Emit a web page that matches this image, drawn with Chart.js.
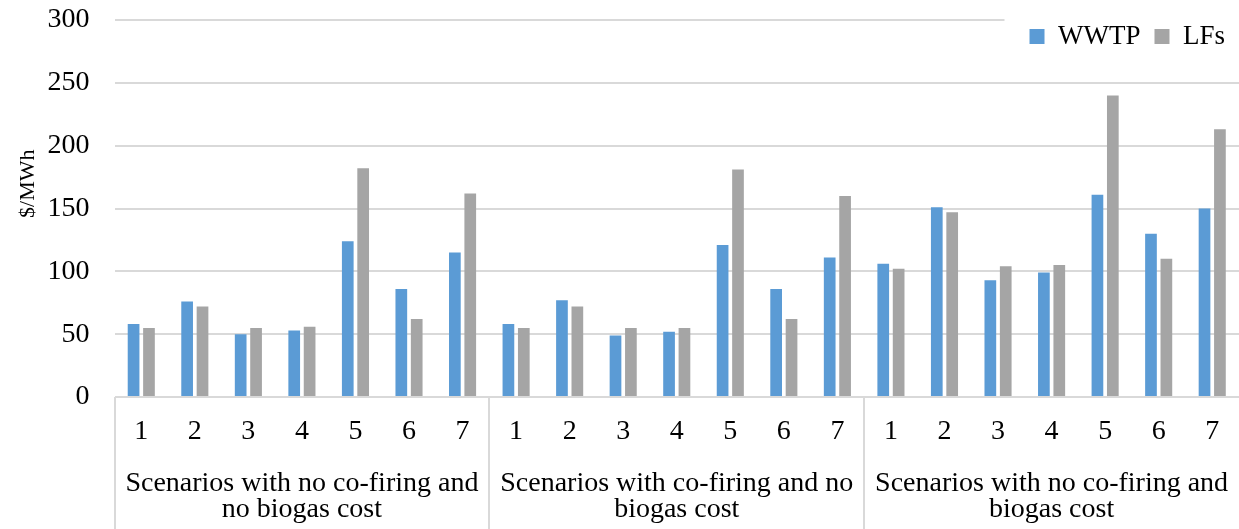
<!DOCTYPE html>
<html>
<head>
<meta charset="utf-8">
<script src="https://cdn.jsdelivr.net/npm/chart.js@4/dist/chart.umd.min.js"></script>
<style>
  body { margin: 0; background: #fff; }
</style>
</head>
<body>
<canvas id="costChart" width="1239" height="529"></canvas>
<script>
// scenario numbers repeated inside each group
const scenarios = ['1', '2', '3', '4', '5', '6', '7'];
const groupLabels = [
    ['Scenarios with no co-firing and', 'no biogas cost'],
    ['Scenarios with co-firing and no', 'biogas cost'],
    ['Scenarios with no co-firing and', 'biogas cost'],
];
const yTicks = [0, 50, 100, 150, 200, 250, 300];

// $/MWh
const wwtpNoCofireNoCost = [58, 76, 50, 53, 124, 86, 115];
const lfsNoCofireNoCost = [55, 72, 55, 56, 182, 62, 162];
const wwtpCofireNoCost = [58, 77, 49, 52, 121, 86, 111];
const lfsCofireNoCost = [55, 72, 55, 55, 181, 62, 160];
const wwtpNoCofireCost = [106, 151, 93, 99, 161, 130, 150];
const lfsNoCofireCost = [102, 147, 104, 105, 240, 110, 213];

const serif = 'Liberation Serif';
const gridGrey = '#d9d9d9';
const none = 'rgba(0,0,0,0)';

// one label per bar pair; the middle scenario of a group also carries the group name
const mid = Math.floor(scenarios.length / 2);
const categories = groupLabels.flatMap(group =>
    scenarios.map((s, i) => i === mid ? [s, '', ...group] : s)
);

// legend sits inside the plot, over a white box like the Excel original
const legendInside = {
    id: 'legendInside',
    afterLayout(chart) {
        const lg = chart.legend;
        lg.top = chart.chartArea.top - 11;
        lg.bottom = lg.top + 60;
    },
    beforeDatasetsDraw(chart) {
        const boxes = chart.legend.legendHitBoxes;
        if (!boxes || !boxes.length) return;
        const x0 = boxes[0].left - 25;
        const ctx = chart.ctx;
        ctx.save();
        ctx.fillStyle = '#fff';
        ctx.fillRect(x0, chart.chartArea.top - 3, chart.width - x0, 6);
        ctx.restore();
    }
};

new Chart(document.getElementById('costChart'), {
    type: 'bar',
    data: {
        labels: categories,
        datasets: [
            {
                label: 'WWTP',
                data: [...wwtpNoCofireNoCost, ...wwtpCofireNoCost, ...wwtpNoCofireCost],
                backgroundColor: '#5b9bd5',
                borderWidth: 0,
            },
            {
                label: 'LFs',
                data: [...lfsNoCofireNoCost, ...lfsCofireNoCost, ...lfsNoCofireCost],
                backgroundColor: '#a5a5a5',
                borderWidth: 0,
            },
        ]
    },
    options: {
        responsive: false,
        animation: false,
        devicePixelRatio: 1,
        categoryPercentage: 0.575,
        barPercentage: 0.76,
        layout: {
            padding: { left: 0, right: 0, top: 0, bottom: 93 }
        },
        plugins: {
            tooltip: { enabled: false },
            legend: {
                position: 'top',
                align: 'end',
                maxHeight: 20,
                labels: {
                    color: '#000',
                    font: { family: serif, size: 27 },
                    boxWidth: 15,
                    boxHeight: 15,
                    padding: 14,
                }
            }
        },
        scales: {
            x: {
                offset: true,
                border: { display: false },
                grid: {
                    offset: true,
                    drawOnChartArea: false,
                    tickLength: 135,
                    lineWidth: 2,
                    color: (ctx) => ctx.index % scenarios.length === 0 ? gridGrey : none,
                },
                ticks: {
                    color: '#000',
                    font: { family: serif, size: 28, lineHeight: 26 / 28 },
                    mirror: true,
                    padding: -48,
                    autoSkip: false,
                    maxRotation: 0,
                }
            },
            y: {
                min: 0,
                max: 300,
                afterBuildTicks: (scale) => {
                    scale.ticks = yTicks.map(v => ({ value: v }));
                },
                border: { display: false },
                grid: {
                    color: gridGrey,
                    lineWidth: 2,
                    tickLength: 22,
                    tickColor: none,
                },
                ticks: {
                    color: '#000',
                    font: { family: serif, size: 28 },
                    padding: 3,
                },
                title: {
                    display: true,
                    text: '         $/MWh',
                    color: '#000',
                    font: { family: serif, size: 22 },
                    padding: { top: 15, bottom: 3.1 },
                }
            }
        }
    },
    plugins: [legendInside]
});
</script>
</body>
</html>
